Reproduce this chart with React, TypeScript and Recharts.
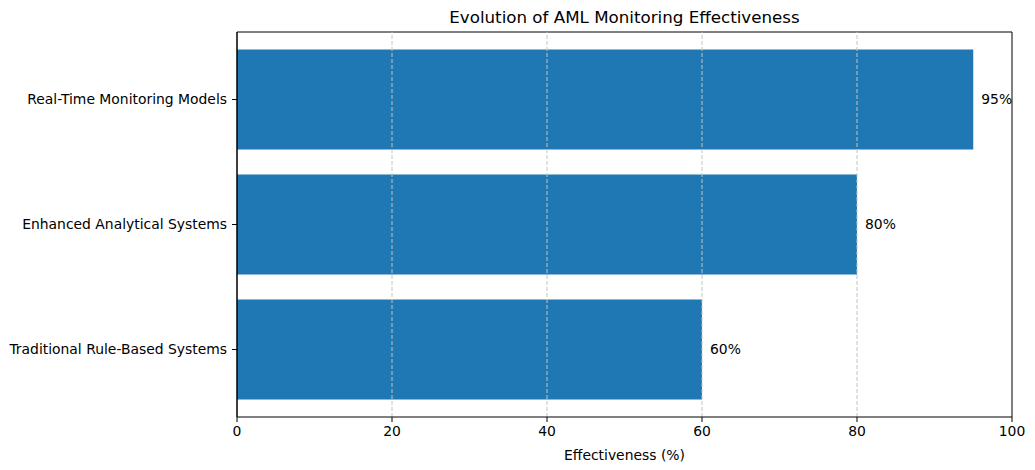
import React from 'react';
import { BarChart, Bar, XAxis, YAxis, CartesianGrid, ReferenceLine, LabelList } from 'recharts';

const categories = ['Real-Time Monitoring Models', 'Enhanced Analytical Systems', 'Traditional Rule-Based Systems'];
const effectiveness = [95, 80, 60];
const xTicks = [0, 20, 40, 60, 80, 100];

const data = categories.map((name, i) => ({ name, value: effectiveness[i] }));
const FONT = '"DejaVu Sans", sans-serif';

export default function App() {
  return (
    <div style={{ position: 'absolute', left: 0, top: 0, width: 1035, height: 470, background: '#fff', fontFamily: FONT }}>
      <div style={{
        position: 'absolute', left: 237, width: 775, top: 7, textAlign: 'center',
        fontSize: 16.7, color: '#000', fontFamily: FONT,
      }}>
        Evolution of AML Monitoring Effectiveness
      </div>
      <BarChart
        width={1035}
        height={470}
        data={data}
        layout="vertical"
        barCategoryGap="10%"
        margin={{ top: 32, right: 23, bottom: 0, left: 0 }}
      >
        <CartesianGrid
          vertical={false}
          stroke="#000"
          strokeWidth={1}
          horizontalCoordinatesGenerator={({ offset }: any) => [offset.top]}
        />
        <XAxis
          type="number"
          domain={[0, 100]}
          ticks={xTicks}
          height={53}
          tick={{ fontSize: 13.9, fill: '#000', fontFamily: FONT }}
          tickSize={5}
          tickMargin={4}
          stroke="#000"
          label={{ value: 'Effectiveness (%)', position: 'insideBottom', offset: 10, fontSize: 13.9, fill: '#000', fontFamily: FONT }}
        />
        <YAxis
          type="category"
          dataKey="name"
          width={237}
          padding={{ top: 5, bottom: 5 }}
          tick={{ fontSize: 13.9, fill: '#000', fontFamily: FONT }}
          tickSize={5}
          tickMargin={5}
          stroke="#000"
        />
        <Bar dataKey="value" fill="#1f77b4" isAnimationActive={false}>
          <LabelList dataKey="value" position="right" offset={8} formatter={(v: any) => `${v}%`}
            style={{ fontSize: 13.9, fill: '#000', fontFamily: FONT }} />
        </Bar>
        {xTicks.slice(1, -1).map((t) => (
          <ReferenceLine key={t} x={t} stroke="#c4c4c4" strokeDasharray="4 2" strokeWidth={1} />
        ))}
        <ReferenceLine x={0} stroke="#000" strokeWidth={1} />
        <ReferenceLine x={100} stroke="#000" strokeWidth={1} />
      </BarChart>
    </div>
  );
}
